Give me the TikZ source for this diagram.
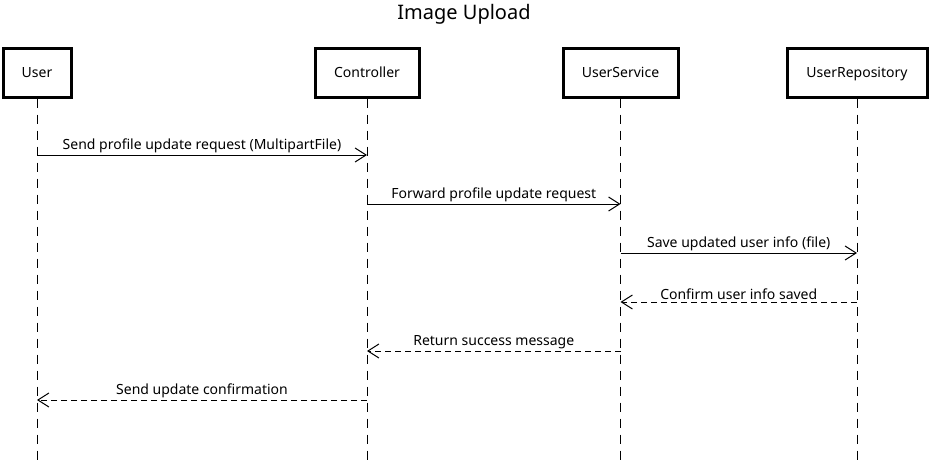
\documentclass[tikz,border=0pt]{standalone}
\usepackage{fontspec}
\setmainfont{Noto Sans}
\usetikzlibrary{arrows.meta}
\begin{document}
\begin{tikzpicture}[x=1pt,y=-1pt,
  actor/.style={draw,line width=3pt,minimum height=49pt,inner sep=0pt,text height=10pt,text depth=1pt,font=\fontsize{14}{16}\selectfont},
  lifeline/.style={line width=1pt,dash pattern=on 9pt off 7pt},
  msg/.style={line width=1pt,-{Straight Barb[length=11pt,width=14pt,line width=1pt]}},
  reply/.style={msg,dash pattern=on 6pt off 4pt},
  lbl/.style={font=\fontsize{14}{16}\selectfont,above,inner sep=2pt}]
\useasboundingbox (0,0) rectangle (938,463);
\node[font=\fontsize{20}{22}\selectfont] (title) at (464,14) {Image Upload};
\node[actor,minimum width=68pt] (u) at (37,72.5) {User};
\node[actor,minimum width=104pt] (c) at (367,72.5) {Controller};
\node[actor,minimum width=115pt] (s) at (620.5,72.5) {UserService};
\node[actor,minimum width=140pt] (r) at (857,72.5) {UserRepository};
\foreach \n in {u,c,s,r} {
  \coordinate (\n e) at (\n.south |- 0,463);
  \draw[lifeline] (\n.south) -- (\n e);
}
\coordinate (u1) at (u.south |- 0,155); \coordinate (c1) at (c.south |- 0,155);
\coordinate (c2) at (c.south |- 0,204); \coordinate (s2) at (s.south |- 0,204);
\coordinate (s3) at (s.south |- 0,253); \coordinate (r3) at (r.south |- 0,253);
\coordinate (r4) at (r.south |- 0,302); \coordinate (s4) at (s.south |- 0,302);
\coordinate (s5) at (s.south |- 0,351); \coordinate (c5) at (c.south |- 0,351);
\coordinate (c6) at (c.south |- 0,400); \coordinate (u6) at (u.south |- 0,400);
\draw[msg] (u1) -- node[lbl] {Send profile update request (MultipartFile)} (c1);
\draw[msg] (c2) -- node[lbl] {Forward profile update request} (s2);
\draw[msg] (s3) -- node[lbl] {Save updated user info (file)} (r3);
\draw[reply] (r4) -- node[lbl] {Confirm user info saved} (s4);
\draw[reply] (s5) -- node[lbl] {Return success message} (c5);
\draw[reply] (c6) -- node[lbl] {Send update confirmation} (u6);
\end{tikzpicture}
\end{document}
